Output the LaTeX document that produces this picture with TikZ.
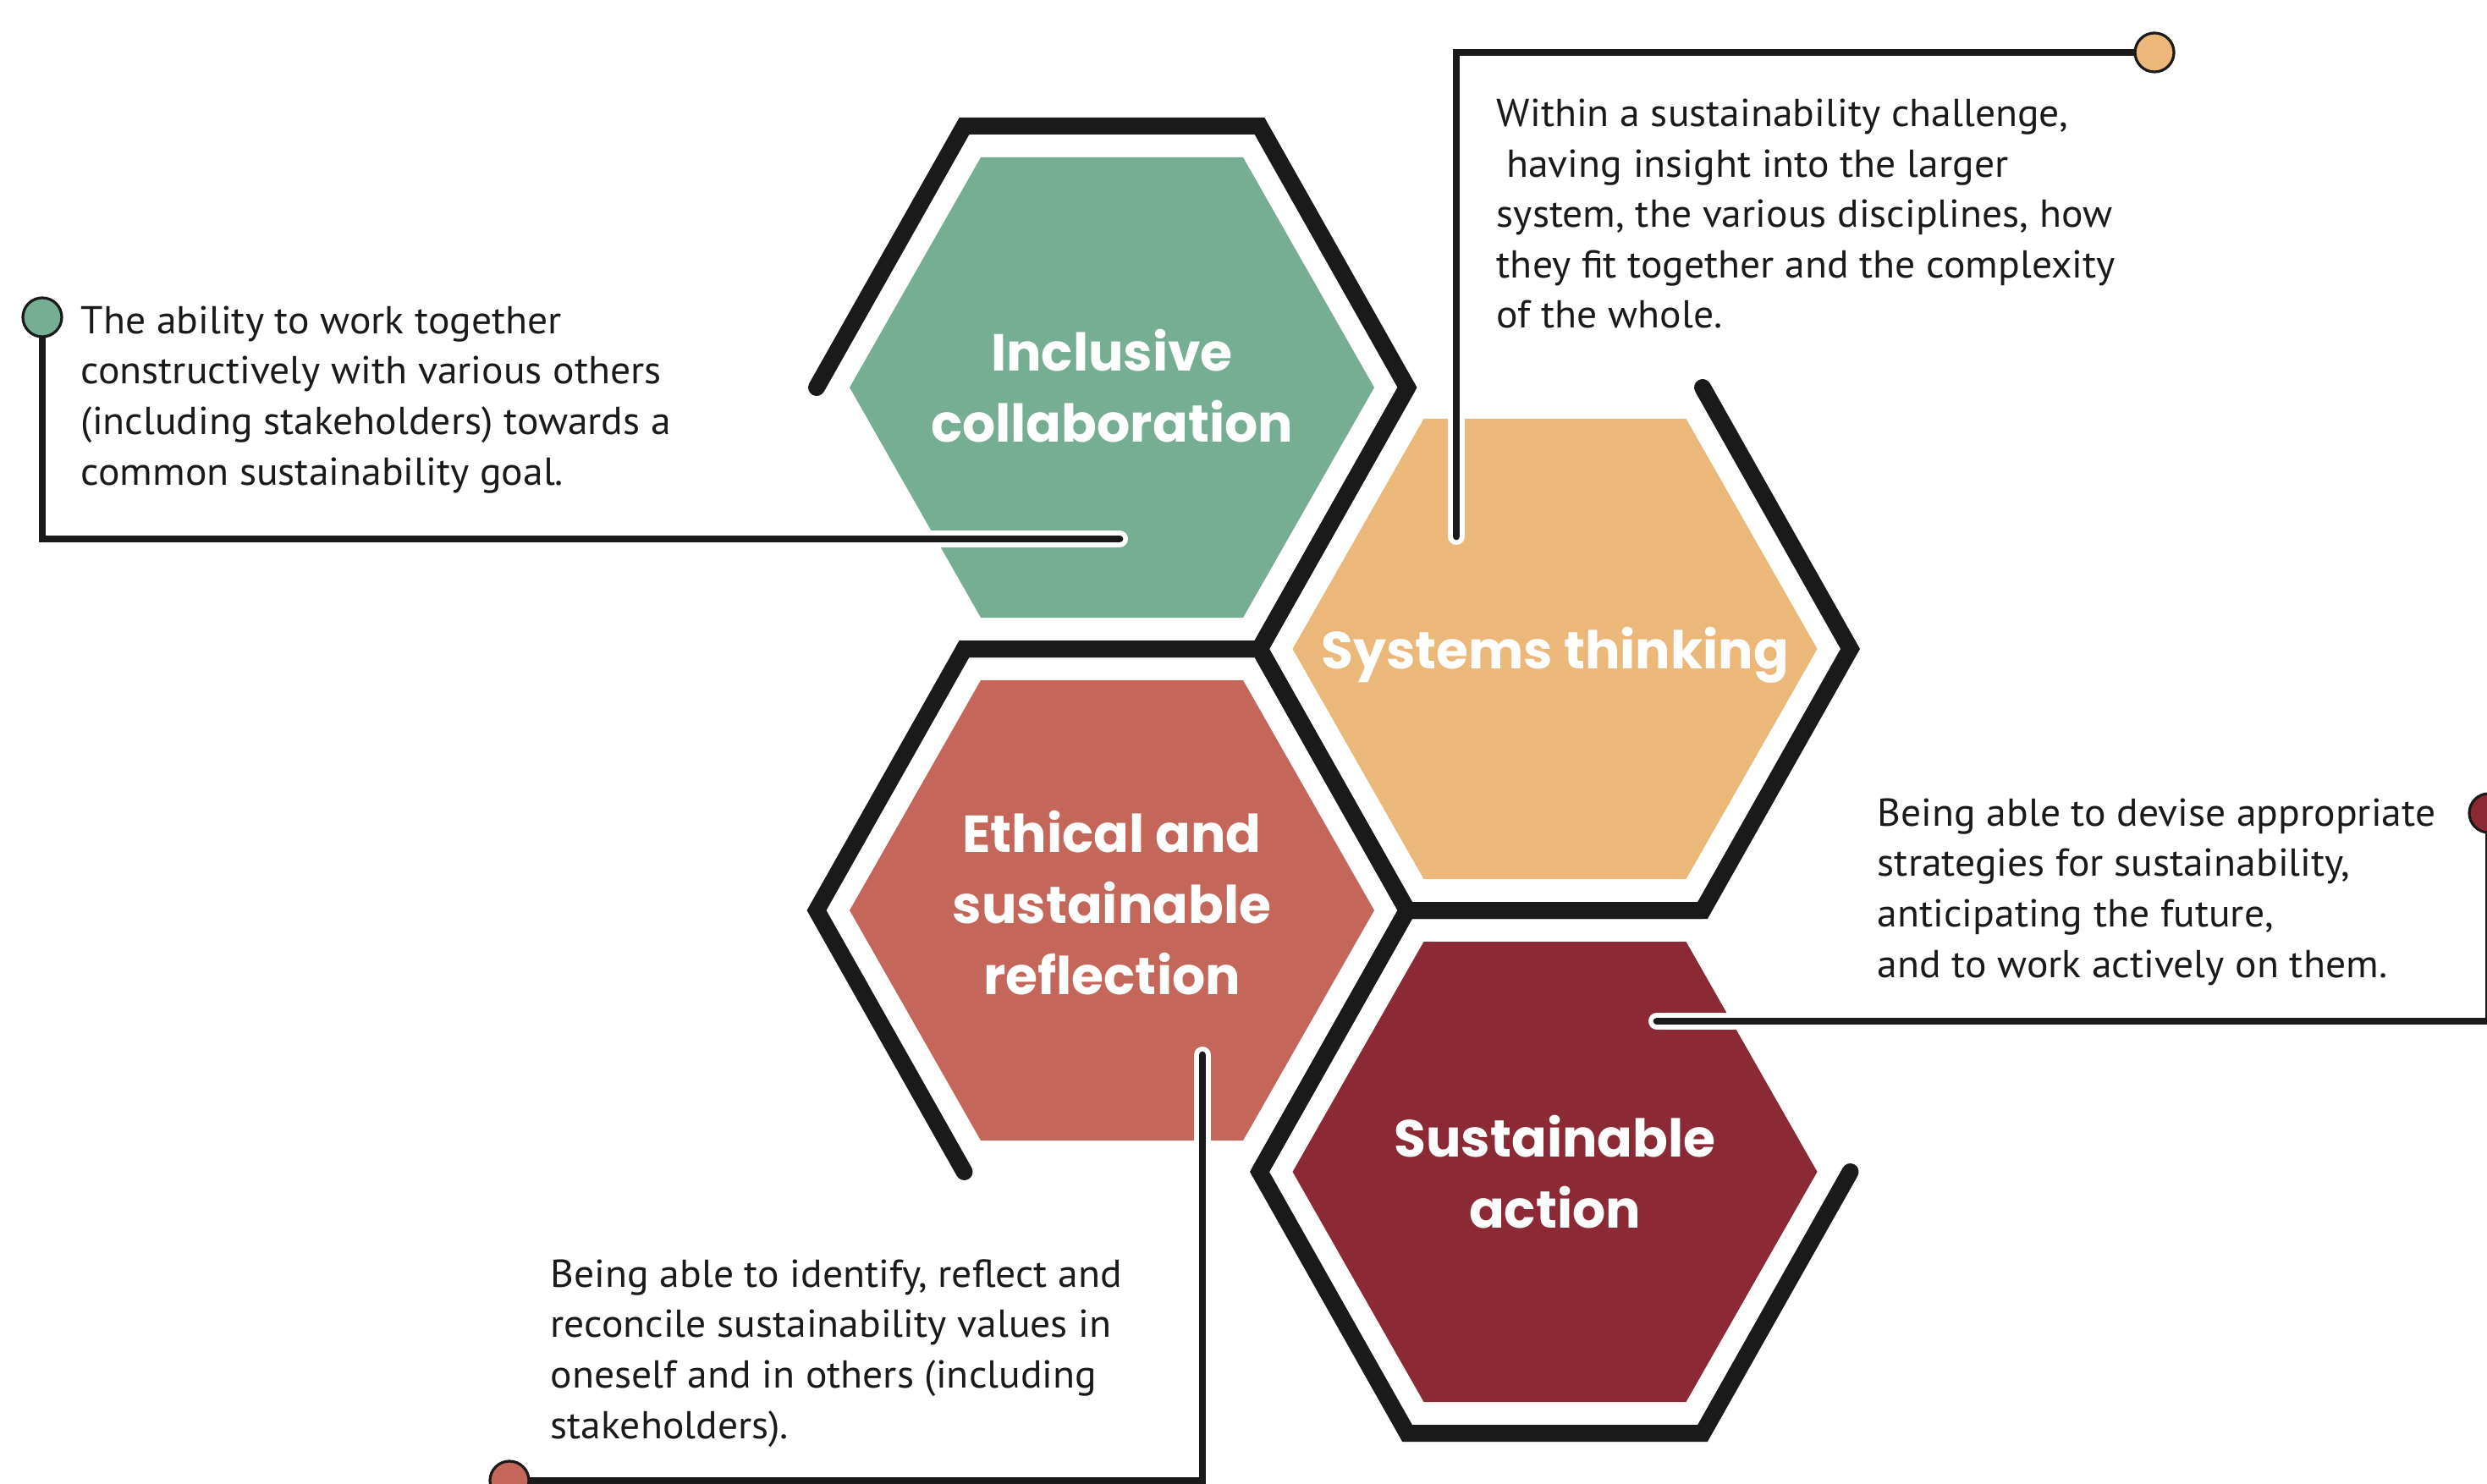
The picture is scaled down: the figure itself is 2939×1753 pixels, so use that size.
\documentclass[tikz,border=0pt]{standalone}
\usepackage{fontspec}
\setmainfont{PT Sans}[FakeStretch=1.035]
\newfontfamily\titlefont{Poppins}
\usetikzlibrary{calc}
\pgfdeclarelayer{bg}
\pgfdeclarelayer{conn}
\pgfsetlayers{bg,conn,main}
\definecolor{cgreen}{RGB}{118,174,148}
\definecolor{corange}{RGB}{235,184,122}
\definecolor{cred}{RGB}{196,102,90}
\definecolor{cdark}{RGB}{139,42,53}
\definecolor{cblack}{RGB}{26,26,26}
\newcommand\hexcorners[1]{%
  \coordinate (#1-E)  at ($(#1)+(349,0)$);
  \coordinate (#1-NE) at ($(#1)+(174.5,-309)$);
  \coordinate (#1-NW) at ($(#1)+(-174.5,-309)$);
  \coordinate (#1-W)  at ($(#1)+(-349,0)$);
  \coordinate (#1-SW) at ($(#1)+(-174.5,309)$);
  \coordinate (#1-SE) at ($(#1)+(174.5,309)$);
  \fill[#1fill] ($(#1)+(310,0)$) -- ($(#1)+(155,-272)$) -- ($(#1)+(-155,-272)$)
     -- ($(#1)+(-310,0)$) -- ($(#1)+(-155,272)$) -- ($(#1)+(155,272)$) -- cycle;}
\begin{document}
\begin{tikzpicture}[x=0.25pt,y=-0.25pt,
  Gfill/.style={fill=cgreen}, Ofill/.style={fill=corange},
  Rfill/.style={fill=cred}, Dfill/.style={fill=cdark},
  frame/.style={draw=cblack, line width=5pt, line join=miter, line cap=round},
  casing/.style={draw=white, line width=5pt, line cap=round},
  conn/.style={draw=cblack, line width=2.2pt, line cap=round},
  dot/.style={circle, draw=cblack, line width=0.8pt, minimum size=11.5pt, inner sep=0pt},
  desc/.style={font=\fontsize{11.5pt}{14.9pt}\selectfont, text=cblack, align=left, inner sep=0pt, anchor=base west},
  title/.style={font=\titlefont\bfseries\fontsize{15.4pt}{21pt}\selectfont, text=white, align=center, inner sep=0pt}]
\useasboundingbox (0,0) rectangle (2939,1753);
\begin{pgfonlayer}{bg}
\coordinate (G) at (1314,458);
\coordinate (O) at (1837.5,767);
\coordinate (R) at (1314,1076);
\coordinate (D) at (1837.5,1385);
\hexcorners{G}\hexcorners{O}\hexcorners{R}\hexcorners{D}
\draw[frame] (G-W) -- (G-NW) -- (G-NE) -- (G-E) -- (G-SE) -- (G-SW);
\draw[frame] (O-NE) -- (O-E) -- (O-SE) -- (O-SW) -- (O-W) -- (O-NW);
\draw[frame] (R-SW) -- (R-W) -- (R-NW) -- (R-NE) -- (R-E) -- (R-SE);
\draw[frame] (D-E) -- (D-SE) -- (D-SW) -- (D-W) -- (D-NW) -- (D-NE);
\end{pgfonlayer}
% titles
\node[title] (tG) at (1314,456) {Inclusive\\collaboration};
\node[title] (tO) at (1837.5,774) {Systems thinking};
\node[title] (tR) at (1314,1067) {Ethical and\\sustainable\\reflection};
\node[title] (tD) at (1837.5,1385) {Sustainable\\action};
% dots
\node[dot, fill=cgreen] (d1) at (50,375) {};
\node[dot, fill=corange] (d2) at (2546,62) {};
\node[dot, fill=cdark] (d3) at (2941,961) {};
\node[dot, fill=cred] (d4) at (602,1750) {};
\coordinate (e1) at (1323,637);
\coordinate (e2) at (1721,634);
\coordinate (e3) at (1958,1207);
\coordinate (e4) at (1421,1247);
\begin{pgfonlayer}{conn}
\draw[casing] (d1.center) |- (e1);
\draw[conn] (d1.center) |- (e1);
\draw[casing] (d2.center) -| (e2);
\draw[conn] (d2.center) -| (e2);
\draw[casing] (d3.center) |- (e3);
\draw[conn] (d3.center) |- (e3);
\draw[casing] (d4.center) -| (e4);
\draw[conn] (d4.center) -| (e4);
\end{pgfonlayer}
% descriptions (anchor = baseline of the last line)
\node[desc] (t1) at (95,573) {The ability to work together\\constructively with various others\\(including stakeholders) towards a\\common sustainability goal.};
\node[desc] (t2) at (1768,388) {Within a sustainability challenge,\\\hspace*{0.25em}having insight into the larger\\system, the various disciplines, how\\they fit together and the complexity\\of the whole.};
\node[desc] (t3) at (2218,1155) {Being able to devise appropriate\\strategies for sustainability,\\anticipating the future,\\and to work actively on them.};
\node[desc] (t4) at (650,1700) {Being able to identify, reflect and\\reconcile sustainability values in\\oneself and in others (including\\stakeholders).};
\end{tikzpicture}
\end{document}
